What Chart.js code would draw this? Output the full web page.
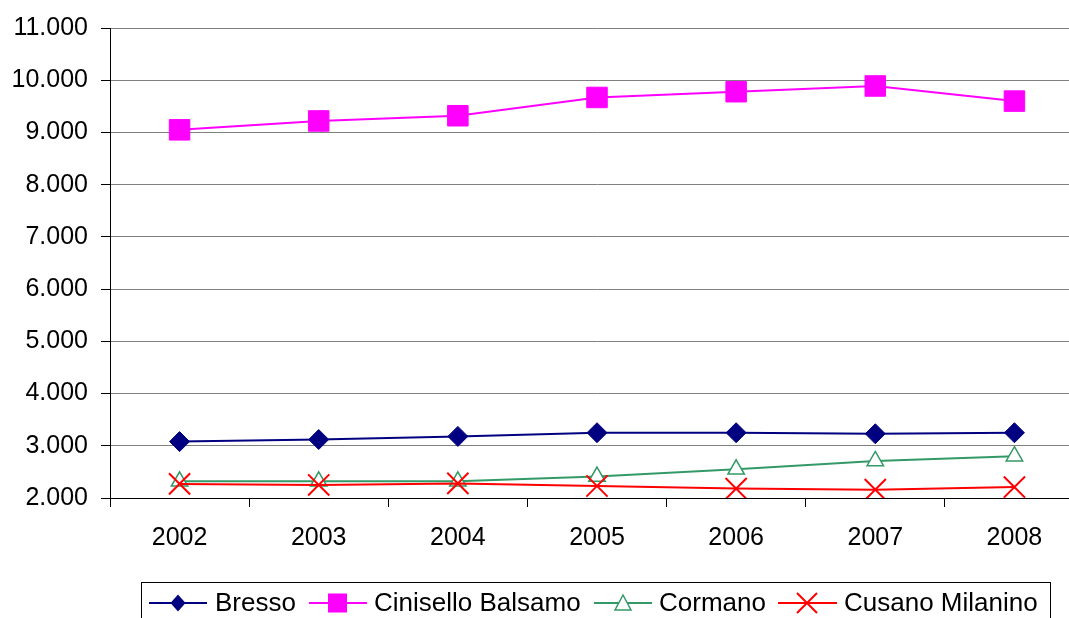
<!DOCTYPE html>
<html>
<head>
<meta charset="utf-8">
<script src="https://cdn.jsdelivr.net/npm/chart.js@4.4.0/dist/chart.umd.min.js"></script>
<style>
    html, body { margin: 0; padding: 0; background: #fff; overflow: hidden; }
    #wrap { position: absolute; left: 0; top: 0; width: 1101px; height: 618px; }
    #chart { position: absolute; left: 0; top: 0; width: 1101px; height: 618px; }
    #legend { position: absolute; left: 0; top: 0; }
</style>
</head>
<body>
<div id="wrap">
    <canvas id="chart" width="1101" height="618"></canvas>
    <svg id="legend" width="1101" height="618" font-family="Liberation Sans, Arial, sans-serif" font-size="26">
        <rect x="141.5" y="582.5" width="909" height="60" fill="none" stroke="#000" stroke-width="1"/>
        <line x1="149" y1="603" x2="207" y2="603" stroke="#000080" stroke-width="2"/>
        <polygon points="178,594.5 185.5,603 178,611.5 170.5,603" fill="#000080"/>
        <text x="215" y="611">Bresso</text>
        <line x1="309" y1="603" x2="367" y2="603" stroke="#ff00ff" stroke-width="2"/>
        <rect x="328" y="593.5" width="19" height="19" fill="#ff00ff"/>
        <text x="374" y="611">Cinisello Balsamo</text>
        <line x1="594" y1="603" x2="652" y2="603" stroke="#339966" stroke-width="2"/>
        <polygon points="623,595 631,610 615,610" fill="#fff" stroke="#339966" stroke-width="1.5"/>
        <text x="659" y="611">Cormano</text>
        <line x1="778" y1="603" x2="837" y2="603" stroke="#ff0000" stroke-width="2"/>
        <path d="M797,593 L817,613 M817,593 L797,613" stroke="#ff0000" stroke-width="2"/>
        <text x="844" y="611">Cusano Milanino</text>
    </svg>
</div>
<script>
const years = ['2002', '2003', '2004', '2005', '2006', '2007', '2008'];
const bresso = [3080, 3120, 3180, 3250, 3250, 3230, 3250];
const cinisello = [9050, 9220, 9320, 9670, 9780, 9890, 9600];
const cormano = [2320, 2320, 2320, 2410, 2550, 2710, 2800];
const cusano = [2270, 2250, 2280, 2230, 2180, 2160, 2210];

const yMin = 2000;
const yMax = 11000;
const yStep = 1000;

function formatIt(v) {
    return String(v).replace(/\B(?=(\d{3})+(?!\d))/g, '.');
}

const tickFont = { family: 'Liberation Sans, Arial, sans-serif', size: 25 };

new Chart(document.getElementById('chart').getContext('2d'), {
    type: 'line',
    data: {
        labels: years,
        datasets: [
            {
                label: 'Bresso',
                data: bresso,
                borderColor: '#000080',
                backgroundColor: '#000080',
                borderWidth: 2,
                pointStyle: 'rectRot',
                pointRadius: 10,
                pointBorderWidth: 1,
                order: 3
            },
            {
                label: 'Cinisello Balsamo',
                data: cinisello,
                borderColor: '#ff00ff',
                backgroundColor: '#ff00ff',
                borderWidth: 2,
                pointStyle: 'rect',
                pointRadius: 14.5,
                pointBorderWidth: 1,
                order: 2
            },
            {
                label: 'Cormano',
                data: cormano,
                borderColor: '#339966',
                backgroundColor: '#ffffff',
                borderWidth: 2,
                pointStyle: 'triangle',
                pointRadius: 9.5,
                pointBorderWidth: 1.5,
                order: 1
            },
            {
                label: 'Cusano Milanino',
                data: cusano,
                borderColor: '#ff0000',
                backgroundColor: '#ff0000',
                borderWidth: 2,
                pointStyle: 'crossRot',
                pointRadius: 15,
                pointBorderWidth: 2,
                order: 0
            }
        ]
    },
    options: {
        responsive: false,
        animation: false,
        layout: { padding: { top: 27, right: 1, left: 0, bottom: 0 } },
        plugins: {
            legend: { display: false },
            tooltip: { enabled: false }
        },
        scales: {
            x: {
                offset: true,
                grid: {
                    offset: true,
                    drawOnChartArea: false,
                    tickLength: 9,
                    tickColor: '#000',
                    tickWidth: 1
                },
                border: { color: '#000', width: 1 },
                ticks: { color: '#000', font: tickFont, padding: 16, maxRotation: 0 },
                afterFit: (scale) => { scale.height = 120; }
            },
            y: {
                min: yMin,
                max: yMax,
                grid: {
                    color: '#808080',
                    lineWidth: 1,
                    tickLength: 9,
                    tickColor: '#000'
                },
                border: { color: '#000', width: 1 },
                ticks: {
                    stepSize: yStep,
                    color: '#000',
                    font: tickFont,
                    padding: 13,
                    callback: (v) => formatIt(v)
                },
                afterFit: (scale) => { scale.width = 110; }
            }
        }
    }
});
</script>
</body>
</html>
